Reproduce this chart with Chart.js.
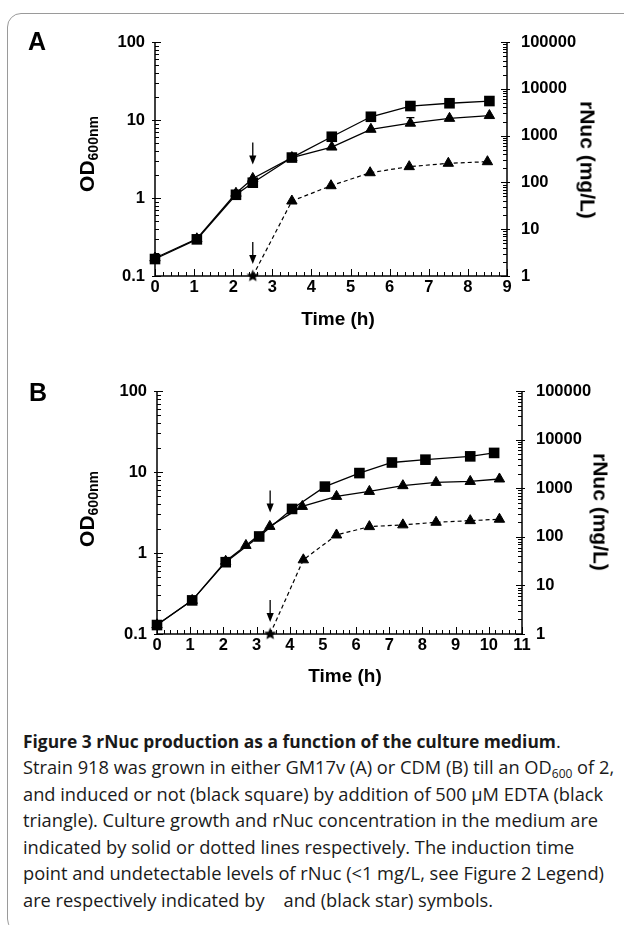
<!DOCTYPE html>
<html>
<head>
<meta charset="utf-8">
<script src="https://cdn.jsdelivr.net/npm/chart.js@4.4.1/dist/chart.umd.min.js"></script>
<style>
  html, body { margin: 0; padding: 0; background: #fff; }
  body { width: 624px; height: 925px; position: relative; overflow: hidden; font-family: "Liberation Sans", Arial, sans-serif; color: #000; }
  .frame { position: absolute; left: 7px; top: 13px; width: 660px; height: 920px; border: 1px solid #9a9a9a; border-radius: 14px; box-sizing: border-box; }
  canvas { position: absolute; left: 0; }
  .lbl { position: absolute; font-weight: bold; white-space: nowrap; line-height: 1; transform: translate(-50%, -50%); }
  .letter { font-size: 25px; }
  .xtitle { font-size: 19px; }
  .ytitle { font-size: 21px; transform: translate(-50%, -50%) rotate(-90deg); }
  .ytitle sub { font-size: 14px; vertical-align: -4px; }
  .rtitle { font-size: 21px; transform: translate(-50%, -50%) rotate(90deg); }
  .caption { position: absolute; left: 23px; top: 727.5px; font-family: "Open Sans", sans-serif; font-size: 18.25px; line-height: 26.6px; color: #1a1a1a; white-space: nowrap; }
  .caption b { font-size: 17.4px; }
  .caption sub { font-size: 12px; vertical-align: -4px; line-height: 0; }
</style>
</head>
<body>
<div class="frame"></div>

<canvas id="chartA" width="624" height="320" style="top:0"></canvas>
<canvas id="chartB" width="624" height="320" style="top:350px"></canvas>

<div class="lbl letter" style="left:37px; top:41px">A</div>
<div class="lbl ytitle" style="left:88px; top:154px">OD<sub>600nm</sub></div>
<div class="lbl rtitle" style="left:588px; top:160px">rNuc (mg/L)</div>
<div class="lbl xtitle" style="left:338px; top:318px">Time (h)</div>

<div class="lbl letter" style="left:38px; top:392px">B</div>
<div class="lbl ytitle" style="left:88px; top:509px">OD<sub>600nm</sub></div>
<div class="lbl rtitle" style="left:601px; top:512px">rNuc (mg/L)</div>
<div class="lbl xtitle" style="left:345px; top:675px">Time (h)</div>

<div class="caption">
  <div><b>Figure 3 rNuc production as a function of the culture medium</b>.</div>
  <div>Strain 918 was grown in either GM17v (A) or CDM (B) till an OD<sub>600</sub> of 2,</div>
  <div>and induced or not (black square) by addition of 500 µM EDTA (black</div>
  <div>triangle). Culture growth and rNuc concentration in the medium are</div>
  <div>indicated by solid or dotted lines respectively. The induction time</div>
  <div>point and undetectable levels of rNuc (&lt;1 mg/L, see Figure 2 Legend)</div>
  <div>are respectively indicated by &nbsp;&nbsp; and (black star) symbols.</div>
</div>

<script>
// panel A - GM17v
const timeA      = [0, 1.07, 2.07, 2.5, 3.5, 4.52, 5.52, 6.53, 7.53, 8.55];
const odCtrlA    = [0.165, 0.295, 1.1, 1.57, 3.3, 6.1, 11, 15.1, 16.4, 17.5];
const odEdtaA    = [0.17, 0.3, 1.15, 1.78, 3.3, 4.5, 7.6, 9.1, 10.5, 11.4];
const odEdtaErrA = [0, 0, 0, 0, 0, 0, 0, 1.6, 0, 0];
const nucTimeA   = [2.5, 3.5, 4.5, 5.5, 6.5, 7.5, 8.5];
const nucEdtaA   = [1, 40, 85, 161, 217, 256, 277];
const inductA    = 2.5;
const xTicksA    = [0, 1, 2, 3, 4, 5, 6, 7, 8, 9];

// panel B - CDM
const timeCtrlB  = [0, 1.06, 2.07, 3.08, 4.07, 5.06, 6.1, 7.08, 8.09, 9.44, 10.16];
const odCtrlB    = [0.129, 0.26, 0.77, 1.6, 3.5, 6.6, 9.7, 13.1, 14.2, 15.6, 17.2];
const timeEdtaB  = [0, 1.06, 2.07, 2.68, 3.4, 4.38, 5.41, 6.4, 7.41, 8.41, 9.44, 10.32];
const odEdtaB    = [0.13, 0.26, 0.79, 1.24, 2.13, 3.76, 5.0, 5.76, 6.78, 7.44, 7.65, 8.2];
const odEdtaErrB = [0, 0, 0, 0, 0, 0, 0, 0, 0, 0, 0, 0];
const nucTimeB   = [3.41, 4.41, 5.41, 6.4, 7.41, 8.41, 9.44, 10.32];
const nucEdtaB   = [1, 33.6, 109, 162, 176, 199, 215, 230];
const inductB    = 3.41;
const xTicksB    = [0, 1, 2, 3, 4, 5, 6, 7, 8, 9, 10, 11];

const odTicks  = [0.1, 1, 10, 100];
const nucTicks = [1, 10, 100, 1000, 10000, 100000];

const tickFont = {family: '"Liberation Sans", Arial, sans-serif', size: 16.5, weight: 'bold'};

function pts(xs, ys) {
  return xs.map((x, i) => ({x: x, y: ys[i]}));
}

// filled five point star for "not detected"
function makeStar(r) {
  const c = document.createElement('canvas');
  c.width = c.height = 2 * r + 2;
  const g = c.getContext('2d');
  g.fillStyle = '#000';
  g.beginPath();
  for (let k = 0; k < 10; k++) {
    const a = -Math.PI / 2 + k * Math.PI / 5;
    const rr = k % 2 ? r * 0.45 : r;
    g.lineTo(r + 1 + rr * Math.cos(a), r + 1 + rr * Math.sin(a));
  }
  g.closePath();
  g.fill();
  return c;
}
const star = makeStar(6.5);

function logTicks(ctx, s, x0, dir) {
  const e0 = Math.floor(Math.log10(s.min)), e1 = Math.ceil(Math.log10(s.max));
  for (let e = e0; e <= e1; e++) {
    for (let m = 1; m <= 9; m++) {
      const v = m * Math.pow(10, e);
      if (v < s.min * 0.999 || v > s.max * 1.001) continue;
      const py = Math.round(s.getPixelForValue(v)) + 0.5;
      if (m === 1) { ctx.moveTo(x0 - 3 * dir, py); ctx.lineTo(x0 + 6 * dir, py); }
      else { ctx.moveTo(x0, py); ctx.lineTo(x0 + 4 * dir, py); }
    }
  }
}

function arrow(ctx, x, tip) {
  ctx.beginPath();
  ctx.moveTo(x, tip - 22);
  ctx.lineTo(x, tip - 6);
  ctx.stroke();
  ctx.beginPath();
  ctx.moveTo(x, tip);
  ctx.lineTo(x - 3.6, tip - 9);
  ctx.lineTo(x + 3.6, tip - 9);
  ctx.closePath();
  ctx.fill();
}

const axesPlugin = {
  id: 'axesPlugin',
  beforeDatasetsDraw(chart) {
    const {ctx, chartArea: a, scales} = chart;
    ctx.save();
    ctx.strokeStyle = '#000';
    ctx.lineWidth = 1.5;
    ctx.beginPath();
    ctx.moveTo(a.left, a.top);
    ctx.lineTo(a.left, a.bottom);
    ctx.lineTo(a.right, a.bottom);
    ctx.lineTo(a.right, a.top);
    ctx.stroke();

    ctx.lineWidth = 1;
    ctx.beginPath();
    const x = scales.x;
    const n = Math.round((x.max - x.min) / 0.2);
    for (let i = 0; i <= n; i++) {
      const px = Math.round(x.getPixelForValue(x.min + i * 0.2)) + 0.5;
      ctx.moveTo(px, a.bottom);
      ctx.lineTo(px, a.bottom - (i % 5 === 0 ? 7 : 4));
    }
    logTicks(ctx, scales.y, a.left, 1);
    logTicks(ctx, scales.y1, a.right, -1);
    ctx.stroke();
    ctx.restore();
  },
  afterDatasetsDraw(chart, args, opts) {
    const {ctx, scales} = chart;
    ctx.save();
    ctx.strokeStyle = '#000';
    ctx.fillStyle = '#000';
    ctx.lineWidth = 1.3;
    // error bars (upper half) on the EDTA growth curve
    opts.errTime.forEach((t, i) => {
      const e = opts.err[i];
      if (!e) return;
      const px = scales.x.getPixelForValue(t);
      const p0 = scales.y.getPixelForValue(opts.errVal[i]);
      const p1 = scales.y.getPixelForValue(opts.errVal[i] + e);
      ctx.beginPath();
      ctx.moveTo(px, p0); ctx.lineTo(px, p1);
      ctx.moveTo(px - 4, p1); ctx.lineTo(px + 4, p1);
      ctx.stroke();
    });
    // induction arrows
    const ix = scales.x.getPixelForValue(opts.induct);
    arrow(ctx, ix, scales.y.getPixelForValue(opts.odInduct) - 14);
    arrow(ctx, ix, scales.y1.getPixelForValue(opts.nucInduct) - 12);
    ctx.restore();
  }
};

function buildChart(id, p) {
  const ctx = document.getElementById(id).getContext('2d');
  return new Chart(ctx, {
    type: 'line',
    data: {
      datasets: [{
        label: 'not induced',
        data: pts(p.tCtrl, p.odCtrl),
        yAxisID: 'y',
        borderColor: '#000', backgroundColor: '#000', borderWidth: 1.3,
        pointStyle: 'rect', pointRadius: 7.5, pointBorderWidth: 0,
        clip: false
      }, {
        label: 'EDTA',
        data: pts(p.tEdta, p.odEdta),
        yAxisID: 'y',
        borderColor: '#000', backgroundColor: '#000', borderWidth: 1.3,
        pointStyle: 'triangle', pointRadius: 6, pointBorderWidth: 1,
        clip: false
      }, {
        label: 'rNuc EDTA',
        data: pts(p.tNuc, p.nuc),
        yAxisID: 'y1',
        borderColor: '#000', backgroundColor: '#000', borderWidth: 1.2,
        borderDash: [4, 3],
        pointStyle: c => c.dataIndex === 0 ? star : 'triangle',
        pointRadius: 6, pointBorderWidth: 1,
        clip: false
      }]
    },
    options: {
      responsive: false,
      animation: false,
      events: [],
      layout: {padding: {top: p.top, left: 0, right: 0, bottom: 0}},
      plugins: {
        legend: {display: false},
        tooltip: {enabled: false},
        axesPlugin: {
          induct: p.induct, odInduct: p.odInduct, nucInduct: p.nuc[0],
          errTime: p.tEdta, errVal: p.odEdta, err: p.err
        }
      },
      scales: {
        x: {
          type: 'linear', min: 0, max: p.xTicks[p.xTicks.length - 1],
          afterBuildTicks: s => { s.ticks = p.xTicks.map(v => ({value: v})); },
          afterFit: s => { s.height = p.xHeight; },
          grid: {display: false, drawTicks: false},
          border: {display: false},
          ticks: {font: tickFont, color: '#000', padding: 2, maxRotation: 0, autoSkip: false}
        },
        y: {
          type: 'logarithmic', position: 'left', min: 0.1, max: 100,
          afterBuildTicks: s => { s.ticks = odTicks.map(v => ({value: v})); },
          afterFit: s => { s.width = p.leftW; },
          grid: {display: false, drawTicks: false},
          border: {display: false},
          ticks: {font: tickFont, color: '#000', padding: 10, autoSkip: false, callback: v => String(v)}
        },
        y1: {
          type: 'logarithmic', position: 'right', min: 1, max: 100000,
          afterBuildTicks: s => { s.ticks = nucTicks.map(v => ({value: v})); },
          afterFit: s => { s.width = p.rightW; },
          grid: {display: false, drawTicks: false},
          border: {display: false},
          ticks: {font: tickFont, color: '#000', padding: p.rightPad, autoSkip: false, callback: v => String(v)}
        }
      }
    },
    plugins: [axesPlugin]
  });
}

buildChart('chartA', {
  tCtrl: timeA, odCtrl: odCtrlA, tEdta: timeA, odEdta: odEdtaA, err: odEdtaErrA,
  tNuc: nucTimeA, nuc: nucEdtaA, induct: inductA, odInduct: odEdtaA[timeA.indexOf(inductA)],
  xTicks: xTicksA, top: 42, leftW: 155, rightW: 117, xHeight: 44, rightPad: 14
});

buildChart('chartB', {
  tCtrl: timeCtrlB, odCtrl: odCtrlB, tEdta: timeEdtaB, odEdta: odEdtaB, err: odEdtaErrB,
  tNuc: nucTimeB, nuc: nucEdtaB, induct: inductB, odInduct: odEdtaB[4],
  xTicks: xTicksB, top: 41, leftW: 157, rightW: 102, xHeight: 36, rightPad: 14
});
</script>
</body>
</html>
